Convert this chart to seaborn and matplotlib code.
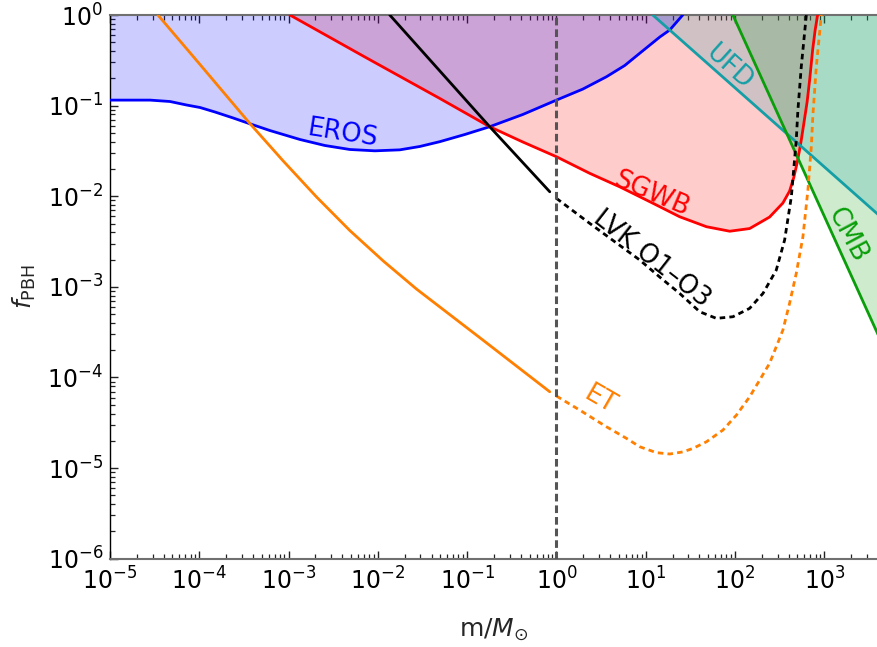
import numpy as np
import pandas as pd
import matplotlib
matplotlib.use("Agg")
import matplotlib.pyplot as plt
from matplotlib.ticker import LogLocator, NullFormatter
import seaborn as sns

# ---------------- data ----------------
eros_m = [1.00e-5, 2.81e-5, 4.70e-5, 7.23e-5, 1.02e-4, 1.50e-4, 2.40e-4, 3.69e-4, 6.18e-4,
          1.34e-3, 2.55e-3, 4.86e-3, 9.27e-3, 1.76e-2, 2.95e-2, 4.94e-2, 9.42e-2, 0.179,
          0.420, 1.0, 1.97, 3.63, 5.82, 8.57, 14.4, 18.6, 26.0]
eros_f = [0.115, 0.115, 0.111, 0.1015, 0.0953, 0.0850, 0.0730, 0.0630, 0.0531,
          0.0423, 0.0363, 0.0328, 0.0317, 0.0325, 0.0354, 0.0400, 0.0480, 0.0585,
          0.0798, 0.115, 0.152, 0.208, 0.277, 0.378, 0.572, 0.683, 1.0]

sgwb_m = [1.035e-3, 7.16e-3, 4.94e-2, 0.179, 0.420, 1.0, 2.36, 5.12, 12.1, 24.0, 47.9,
          87.3, 146, 244, 344, 409, 454, 491, 524, 553, 587, 643, 686, 741, 791, 843]
sgwb_f = [1.0, 0.344, 0.120, 0.0585, 0.0397, 0.0273, 0.0179, 0.0127, 8.35e-3, 5.94e-3, 4.61e-3,
          4.11e-3, 4.40e-3, 5.89e-3, 8.41e-3, 1.14e-2, 1.59e-2, 2.21e-2, 3.08e-2, 4.17e-2,
          6.11e-2, 0.110, 0.192, 0.411, 0.683, 1.0]

lvk_m = [0.0136, 0.179, 0.843]
lvk_f = [1.0, 0.0585, 0.0112]
lvk_proj_m = [1.0, 2.36, 4.50, 8.57, 14.4, 24.0, 40.3, 61.9, 94.9, 146, 206, 290, 360, 428,
              486, 507, 553, 630]
lvk_proj_f = [9.48e-3, 5.02e-3, 3.15e-3, 1.98e-3, 1.28e-3, 8.47e-4, 5.31e-4, 4.49e-4, 4.68e-4,
              5.79e-4, 8.47e-4, 1.53e-3, 3.29e-3, 9.88e-3, 4.17e-2, 8.93e-2, 0.269, 1.0]

et_m = [3.44e-5, 1.02e-4, 3.69e-4, 8.71e-4, 2.06e-3, 4.86e-3, 1.15e-2, 2.71e-2, 0.150, 0.843]
et_f = [1.0, 0.284, 0.0634, 0.0245, 9.80e-3, 4.18e-3, 1.93e-3, 9.46e-4, 2.59e-4, 6.95e-5]
et_proj_m = [1.0, 1.82, 3.63, 6.08, 8.57, 13.2, 18.6, 26.2, 33.9, 47.9, 73.4, 104, 146, 189,
             244, 290, 344, 409, 486, 577, 656, 716, 746, 815, 927]
et_proj_f = [6.24e-5, 4.37e-5, 2.86e-5, 2.13e-5, 1.72e-5, 1.48e-5, 1.43e-5, 1.51e-5, 1.65e-5,
             1.95e-5, 2.63e-5, 3.85e-5, 6.12e-5, 9.35e-5, 1.43e-4, 2.18e-4, 3.33e-4, 6.58e-4,
             1.41e-3, 3.57e-3, 1.17e-2, 3.52e-2, 7.87e-2, 0.269, 1.0]

ufd_m = [12.0, 4000]
ufd_f = [1.0, 0.0063]
cmb_m = [94.8, 4000]
cmb_f = [1.0, 2.98e-4]

labels = ["EROS", "SGWB", "LVK O1–O3", "ET", "UFD", "CMB"]
label_m = [4.0e-3, 11.6, 11.7, 3.05, 87.0, 1795]
label_f = [0.049, 0.0106, 2.03e-3, 5.71e-5, 0.265, 3.73e-3]
label_rot = [-9, -23, -38, -30, -42, -62]

C_EROS, C_SGWB, C_LVK, C_ET, C_UFD, C_CMB = "#0000ff", "#ff0000", "#000000", "#ff7f00", "#149ea6", "#0a9e0a"
label_col = [C_EROS, C_SGWB, C_LVK, C_ET, C_UFD, C_CMB]

# ---------------- figure ----------------
sns.set_theme(style="white")
plt.rcParams['font.family'] = ['DejaVu Sans']
plt.rcParams['mathtext.fontset'] = 'dejavusans'

W, H = 878, 647
fig = plt.figure(figsize=(W / 100, H / 100), dpi=100)
ax = fig.add_axes([110 / W, 1 - 558.7 / H, 1 - 110 / W, (558.7 - 15) / H])
ax.set_xscale('log')
ax.set_yscale('log')
ax.set_xlim(1e-5, 4e3)
ax.set_ylim(1e-6, 1.0)

# fills
ax.fill_between(sgwb_m, sgwb_f, 1.0, color=C_SGWB, alpha=0.2, lw=0, zorder=1)
ax.fill_between(cmb_m, cmb_f, 1.0, color=C_CMB, alpha=0.2, lw=0, zorder=1)
ax.fill_between(ufd_m, ufd_f, 1.0, color=C_UFD, alpha=0.2, lw=0, zorder=1)
ax.fill_between(eros_m, eros_f, 1.0, color=C_EROS, alpha=0.2, lw=0, zorder=1)

lw = 2.0
dash = (0, (2.0, 1.5))

def line(m, f, c, ls='-'):
    df = pd.DataFrame({"m": m, "f": f})
    sns.lineplot(data=df, x="m", y="f", ax=ax, color=c, lw=lw, linestyle=ls,
                 sort=False, estimator=None, zorder=3)

line(eros_m, eros_f, C_EROS)
line(sgwb_m, sgwb_f, C_SGWB)
line(ufd_m, ufd_f, C_UFD)
line(cmb_m, cmb_f, C_CMB)
line(lvk_m, lvk_f, C_LVK)
line(lvk_proj_m, lvk_proj_f, C_LVK, dash)
line(et_m, et_f, C_ET)
line(et_proj_m, et_proj_f, C_ET, dash)

ax.axvline(1.0, color="#555555", lw=2.2, linestyle=(0, (2.5, 1.3)), zorder=4)

for t, xm, yf, r, c in zip(labels, label_m, label_f, label_rot, label_col):
    ax.text(xm, yf, t, color=c, fontsize=18.5, rotation=r, ha='center', va='center',
            rotation_mode='anchor', zorder=5)

# axes styling
ax.xaxis.set_major_locator(LogLocator(base=10, numticks=100))
ax.yaxis.set_major_locator(LogLocator(base=10, numticks=100))
ax.xaxis.set_minor_locator(LogLocator(base=10, subs=np.arange(2, 10), numticks=100))
ax.yaxis.set_minor_locator(LogLocator(base=10, subs=np.arange(2, 10), numticks=100))
ax.xaxis.set_minor_formatter(NullFormatter())
ax.yaxis.set_minor_formatter(NullFormatter())
ax.tick_params(which='both', direction='in', top=True, right=False, left=True, bottom=True,
               colors='#222222', labelcolor='black', labelsize=17)
ax.tick_params(which='major', length=5.8, width=1.0)
ax.tick_params(which='minor', length=3.4, width=0.9)
ax.tick_params(axis='x', which='major', pad=6)
ax.tick_params(axis='y', which='major', pad=5)

for s in ['top', 'bottom']:
    ax.spines[s].set_color('#707070')
    ax.spines[s].set_linewidth(1.5)
ax.spines['left'].set_color('black')
ax.spines['left'].set_linewidth(1.0)
ax.spines['right'].set_visible(False)

ax.set_xlabel(r'm/$M_{\odot}$', fontsize=18, labelpad=16)
ax.set_ylabel(r'$f_{\rm PBH}$', fontsize=18, labelpad=7)

fig.savefig('out.png', dpi=100)
